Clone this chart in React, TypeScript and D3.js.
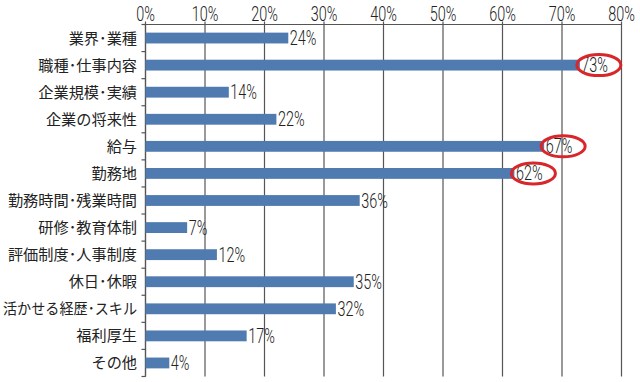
import React from "react";
import * as d3 from "d3";

const categories = [
  "業界･業種",
  "職種･仕事内容",
  "企業規模･実績",
  "企業の将来性",
  "給与",
  "勤務地",
  "勤務時間･残業時間",
  "研修･教育体制",
  "評価制度･人事制度",
  "休日･休暇",
  "活かせる経歴･スキル",
  "福利厚生",
  "その他",
];
const values = [24, 73, 14, 22, 67, 62, 36, 7, 12, 35, 32, 17, 4];
const highlighted = ["職種･仕事内容", "給与", "勤務地"];
const xTicks = [0, 10, 20, 30, 40, 50, 60, 70, 80];

const W = 640;
const H = 382;
const left = 145.5;
const right = 621.5;
const top = 24.5;
const bottom = 376.5;
const labelRight = 137;
const maxLabelWidth = 134;

export default function App() {
  const x = d3.scaleLinear().domain([0, 80]).range([left, right]);
  const y = d3.scaleBand<string>().domain(categories).range([top, bottom]).paddingInner(0.6).paddingOuter(0.3);
  const band = d3.scaleBand<string>().domain(categories).range([top, bottom]);
  const numFont = "Roboto, 'Liberation Sans', sans-serif";
  const jpFont = "'Noto Sans CJK JP', sans-serif";
  const jpSize = 15.2;
  const estWidth = (s: string) => Array.from(s).reduce((a, ch) => a + (ch === "･" ? 0.5 : 1), 0) * jpSize;

  const NumText = ({ px, py, anchor, children }: { px: number; py: number; anchor: string; children: React.ReactNode }) => (
    <text
      transform={`translate(${px},${py}) scale(0.74,1)`}
      textAnchor={anchor}
      fontSize={19.5}
      fontWeight={300}
      fontFamily={numFont}
      fill="#222"
    >
      {children}
    </text>
  );

  return (
    <svg width={W} height={H} style={{ position: "absolute", left: 0, top: 0, background: "#fff" }}>
      {xTicks.map((t) => (
        <line key={"g" + t} x1={x(t)} x2={x(t)} y1={top - 3} y2={bottom} stroke="#555" strokeWidth={1.2} />
      ))}
      <line x1={left} x2={right} y1={top} y2={top} stroke="#555" strokeWidth={1.2} />
      <line x1={left} x2={left} y1={top} y2={bottom} stroke="#555" strokeWidth={1.2} />
      {categories.map((c, i) => (
        <line key={"t" + i} x1={left - 4} x2={left} y1={band(c)! + band.bandwidth()} y2={band(c)! + band.bandwidth()} stroke="#555" strokeWidth={1.2} />
      ))}
      <line x1={left - 4} x2={left} y1={top} y2={top} stroke="#555" strokeWidth={1.2} />
      {xTicks.map((t) => (
        <NumText key={"l" + t} px={x(t)} py={20.5} anchor="middle">
          {t}%
        </NumText>
      ))}
      {categories.map((c, i) => (
        <rect key={"b" + i} x={x(0)} y={y(c)} width={x(values[i]) - x(0)} height={y.bandwidth()} fill="#4f7bb0" />
      ))}
      {categories.map((c, i) => {
        const w = estWidth(c);
        const fit = w > maxLabelWidth;
        return (
          <text
            key={"c" + i}
            x={labelRight}
            y={band(c)! + band.bandwidth() / 2}
            dy="0.36em"
            textAnchor="end"
            fontSize={jpSize}
            fontFamily={jpFont}
            fill="#222"
            {...(fit ? { textLength: maxLabelWidth, lengthAdjust: "spacingAndGlyphs" } : {})}
          >
            {c}
          </text>
        );
      })}
      {categories.map((c, i) => (
        <NumText key={"v" + i} px={x(values[i]) + 1.5} py={band(c)! + band.bandwidth() / 2 + 7} anchor="start">
          {values[i]}%
        </NumText>
      ))}
      {categories.map((c, i) =>
        highlighted.includes(c) ? (
          <ellipse key={"e" + i} cx={x(values[i]) + 19} cy={band(c)! + band.bandwidth() / 2} rx={22} ry={10.5} fill="none" stroke="#d8262a" strokeWidth={3} />
        ) : null
      )}
    </svg>
  );
}
